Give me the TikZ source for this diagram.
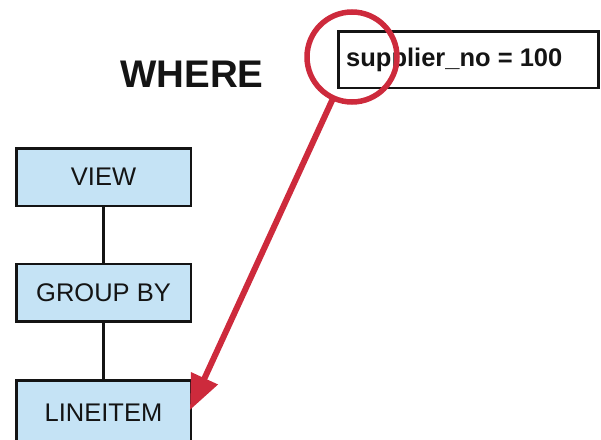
\documentclass[tikz,border=0pt]{standalone}
\usepackage{fontspec}
\setmainfont{Liberation Sans}
\usetikzlibrary{arrows.meta}
\definecolor{boxblue}{RGB}{197,227,245}
\definecolor{magred}{RGB}{205,42,60}
\definecolor{ink}{RGB}{20,20,20}
\begin{document}
\begin{tikzpicture}[x=1pt,y=-1pt,
  stepbox/.style={draw=ink, fill=boxblue, line width=2.5pt, minimum width=174.5pt,
    minimum height=57.5pt, inner sep=0pt, outer sep=0pt, text=ink,
    font=\fontsize{25.5}{30}\selectfont},
  link/.style={draw=ink, line width=2.5pt},
  condbox/.style={draw=ink, line width=2.5pt, minimum width=260pt, minimum height=56.5pt,
    inner sep=0pt, outer sep=0pt, anchor=north west},
  magnifier/.style={circle, draw=magred, line width=5.5pt, minimum size=90pt, inner sep=0pt, outer sep=0pt},
  pointer/.style={draw=magred, line width=6pt, -{Triangle[length=35pt,width=28pt]}, shorten >=-2pt}
]
\useasboundingbox (0,0) rectangle (601,439);
\begin{scope}
\clip (0,0) rectangle (601,439);
\node[stepbox] (view) at (103.5,177) {VIEW};
\node[stepbox] (group) at (103.5,292.5) {GROUP BY};
\node[stepbox, minimum height=80pt, anchor=north] (line) at (103.5,380.25) {\raisebox{15pt}{LINEITEM}};
\coordinate (tip) at ([yshift=-28pt]line.north east);
\draw[link] (view.south) -- (group.north);
\draw[link] (group.south) -- (line.north);
\node[condbox] (cond) at (338.25,31.25) {};
\node[anchor=west, text=ink, font=\bfseries\fontsize{25.5}{30}\selectfont, inner sep=0pt] (condtext) at (346,59.5) {supplier\_no = 100};
\node[anchor=west, text=ink, font=\bfseries\fontsize{38.5}{44}\selectfont, inner sep=0pt] (where) at (120,74.5) {WHERE};
\node[magnifier] (mag) at (352,57) {};
\draw[pointer] (mag) -- (tip);
\end{scope}
\end{tikzpicture}
\end{document}
